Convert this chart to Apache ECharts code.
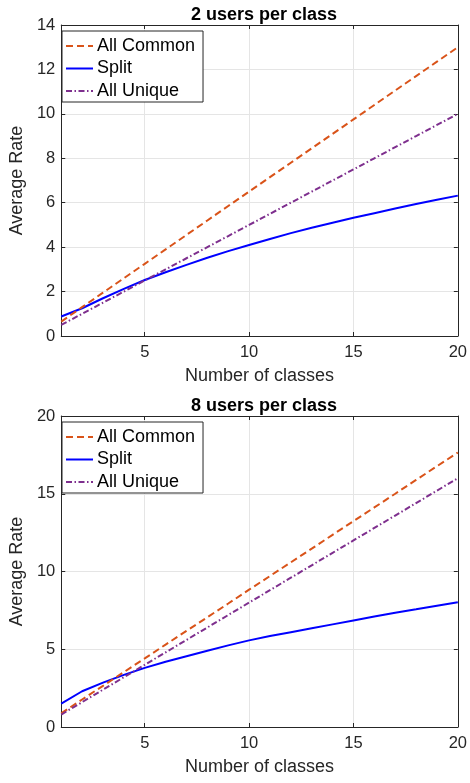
<!DOCTYPE html>
<html>
<head>
<meta charset="utf-8">
<script src="https://cdn.jsdelivr.net/npm/echarts@6/dist/echarts.min.js"></script>
<style>
  html, body { margin: 0; padding: 0; background: #fff; }
  #chart { width: 470px; height: 783px; }
</style>
</head>
<body>
<div id="chart"></div>
<script>
// number of classes on the x axis
var classes = [1,2,3,4,5,6,7,8,9,10,11,12,13,14,15,16,17,18,19,20];
var xTicks = [5, 10, 15, 20];

// 2 users per class
var common2 = [0.65,1.3,1.95,2.6,3.25,3.9,4.55,5.2,5.85,6.5,7.15,7.8,8.45,9.1,9.75,10.4,11.05,11.7,12.35,13.0];
var split2  = [0.88,1.25,1.7,2.12,2.52,2.87,3.2,3.52,3.82,4.1,4.37,4.63,4.87,5.1,5.32,5.53,5.74,5.94,6.13,6.32];
var unique2 = [0.5,1,1.5,2,2.5,3,3.5,4,4.5,5,5.5,6,6.5,7,7.5,8,8.5,9,9.5,10];

// 8 users per class
var common8 = [0.88,1.77,2.65,3.53,4.41,5.3,6.18,7.06,7.94,8.83,9.71,10.59,11.47,12.36,13.24,14.12,15.0,15.89,16.77,17.65];
var split8  = [1.5,2.3,2.85,3.35,3.8,4.2,4.55,4.9,5.25,5.57,5.85,6.1,6.35,6.6,6.85,7.1,7.35,7.57,7.8,8.02];
var unique8 = [0.8,1.6,2.4,3.2,4,4.8,5.6,6.4,7.2,8,8.8,9.6,10.4,11.2,12,12.8,13.6,14.4,15.2,16];

var FONT = "'Liberation Sans', Arial, Helvetica, sans-serif";
var AXC = '#262626';
var names = ['All Common', 'Split', 'All Unique'];

function pairs(ys) {
    return classes.map(function (x, i) { return [x, ys[i]]; });
}

var chart = echarts.init(document.getElementById('chart'), null, { renderer: 'canvas' });

var grids = [
    { left: 57, right: 9, top: 25, height: 311 },
    { left: 57, right: 9, top: 416, height: 311 }
];
var yRanges = [
    { max: 14, interval: 2 },
    { max: 20, interval: 5 }
];

var xAxes = [], yAxes = [], series = [], legends = [], titles = [];
grids.forEach(function (g, k) {
    // bottom x axis (with labels) and a mirrored top one for the box
    xAxes.push({
        gridIndex: k, type: 'value', min: 1, max: 20,
        name: 'Number of classes', nameLocation: 'middle', nameGap: 31,
        nameTextStyle: { fontFamily: FONT, fontSize: 18, color: AXC },
        axisLine: { show: true, lineStyle: { color: AXC, width: 1 } },
        axisTick: { show: true, inside: true, length: 4, customValues: xTicks, lineStyle: { color: AXC } },
        axisLabel: { margin: 8, customValues: xTicks, fontFamily: FONT, fontSize: 16.5, color: AXC },
        splitLine: { show: true, lineStyle: { color: '#e5e5e5', width: 1 } }
    });
    xAxes.push({
        gridIndex: k, type: 'value', min: 1, max: 20, position: 'top',
        axisLine: { show: true, onZero: false, lineStyle: { color: AXC, width: 1 } },
        axisTick: { show: true, inside: true, length: 4, customValues: xTicks, lineStyle: { color: AXC } },
        axisLabel: { show: false },
        splitLine: { show: false }
    });
    yAxes.push({
        gridIndex: k, type: 'value', min: 0, max: yRanges[k].max, interval: yRanges[k].interval,
        name: 'Average Rate', nameLocation: 'middle', nameGap: 32,
        nameTextStyle: { fontFamily: FONT, fontSize: 18, color: AXC },
        axisLine: { show: true, lineStyle: { color: AXC, width: 1 } },
        axisTick: { show: true, inside: true, length: 4, lineStyle: { color: AXC } },
        axisLabel: { margin: 6, fontFamily: FONT, fontSize: 16.5, color: AXC },
        splitLine: { show: true, lineStyle: { color: '#e5e5e5', width: 1 } }
    });
    yAxes.push({
        gridIndex: k, type: 'value', min: 0, max: yRanges[k].max, interval: yRanges[k].interval,
        position: 'right',
        axisLine: { show: true, onZero: false, lineStyle: { color: AXC, width: 1 } },
        axisTick: { show: true, inside: true, length: 4, lineStyle: { color: AXC } },
        axisLabel: { show: false },
        splitLine: { show: false }
    });

    var d = k === 0 ? [common2, split2, unique2] : [common8, split8, unique8];
    series.push({
        name: names[0], type: 'line', xAxisIndex: 2 * k, yAxisIndex: 2 * k,
        data: pairs(d[0]), showSymbol: false, symbol: 'none', z: 3,
        lineStyle: { color: '#D95319', width: 2, type: [7, 4] },
        itemStyle: { color: '#D95319' }
    });
    series.push({
        name: names[1], type: 'line', xAxisIndex: 2 * k, yAxisIndex: 2 * k,
        data: pairs(d[1]), showSymbol: false, symbol: 'none', z: 2,
        lineStyle: { color: '#0000FF', width: 2, type: 'solid' },
        itemStyle: { color: '#0000FF' }
    });
    series.push({
        name: names[2], type: 'line', xAxisIndex: 2 * k, yAxisIndex: 2 * k,
        data: pairs(d[2]), showSymbol: false, symbol: 'none', z: 4,
        lineStyle: { color: '#7E2F8E', width: 2, type: [6, 2.5, 1.5, 2.5] },
        itemStyle: { color: '#7E2F8E' }
    });

    legends.push({
        data: names, orient: 'vertical',
        left: 62, top: g.top + 6,
        backgroundColor: '#fff', borderColor: AXC, borderWidth: 1,
        padding: [6, 8, 2, 3], itemGap: 4.5,
        itemWidth: 27, itemHeight: 18,
        itemStyle: { opacity: 0 },
        textStyle: { fontFamily: FONT, fontSize: 18, color: '#000', padding: [0, 0, 0, -1] },
        selectedMode: false
    });

    titles.push({
        text: k === 0 ? '2 users per class' : '8 users per class',
        left: 259, textAlign: 'center', top: g.top - 24,
        textStyle: { fontFamily: FONT, fontSize: 18, fontWeight: 'bold', color: '#000' }
    });
});

chart.setOption({
    backgroundColor: '#fff',
    animation: false,
    title: titles,
    legend: legends,
    grid: grids,
    xAxis: xAxes,
    yAxis: yAxes,
    series: series
});
</script>
</body>
</html>
